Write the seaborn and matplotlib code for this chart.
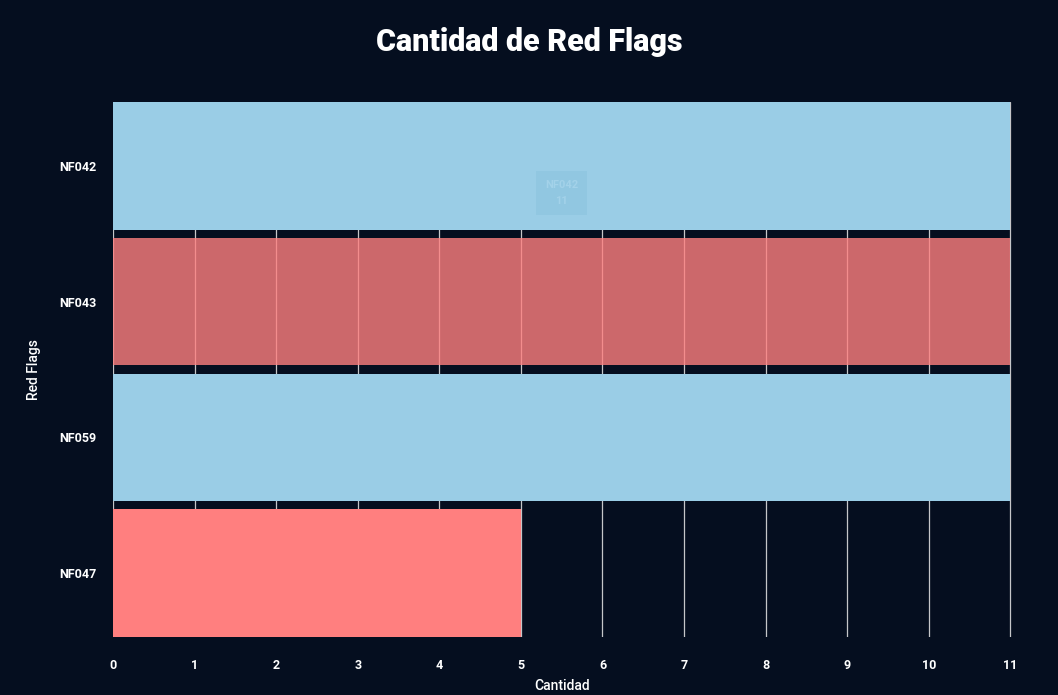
import matplotlib
matplotlib.use("Agg")
import matplotlib.pyplot as plt
import seaborn as sns
import pandas as pd

# Data
flags = ["NF042", "NF043", "NF059", "NF047"]
counts = [11, 11, 11, 5]
bar_colors = ["#9ACDE6", "#FF7F7F", "#9ACDE6", "#FF7F7F"]
bar_alpha = [1.0, 0.8, 1.0, 1.0]
x_ticks = list(range(0, 12))

BG = "#050E1F"

sns.set_theme(style="dark")
plt.rcParams["font.family"] = ["Roboto", "DejaVu Sans"]

df = pd.DataFrame({"flag": flags, "count": counts})

fig = plt.figure(figsize=(10.58, 6.95), dpi=100, facecolor=BG)
ax = fig.add_axes([0.1068, 0.0835, 0.8497, 0.7697])
ax.set_facecolor(BG)

sns.barplot(data=df, x="count", y="flag", hue="flag", order=flags,
            palette=dict(zip(flags, bar_colors)), legend=False,
            width=0.94, orient="h", ax=ax, saturation=1)

for patch, a in zip(ax.patches, bar_alpha):
    patch.set_alpha(a)
    patch.set_edgecolor("none")

ax.set_xlim(0, 11.02)
ax.set_ylim(3.47, -0.47)
ax.set_xticks(x_ticks)
ax.set_axisbelow(True)
ax.grid(axis="x", color="#E8E8E8", linewidth=0.9, alpha=0.85)
ax.grid(axis="y", visible=False)
for s in ax.spines.values():
    s.set_visible(False)

ax.tick_params(axis="x", colors="white", labelsize=9, length=4, width=0.8,
               pad=12, labelcolor="white")
ax.tick_params(axis="y", colors="white", labelsize=9, length=0, pad=12)
for lab in ax.get_xticklabels() + ax.get_yticklabels():
    lab.set_fontweight("bold")

ax.set_xlabel("Cantidad", color="white", fontsize=10, labelpad=5,
              fontweight="medium")
ax.set_ylabel("Red Flags", color="white", fontsize=10, labelpad=13,
              fontweight="medium")

fig.text(0.5, 0.94, "Cantidad de Red Flags", ha="center", va="center",
         color="white", fontsize=22, fontweight="black")

# Hover tooltip over the first bar
ax.annotate(f"{flags[0]}\n{counts[0]}", xy=(5.5, 0.42), xytext=(5.5, 0.2),
            ha="center", va="center", color="#A3D2E9", fontsize=8,
            fontweight="bold", linespacing=1.7,
            bbox=dict(boxstyle="square,pad=0.8", fc="#91C7E1", ec="none"),
            arrowprops=dict(arrowstyle="-", color="#91C7E1", lw=0))

fig.savefig("out.png", dpi=100, facecolor=BG)
